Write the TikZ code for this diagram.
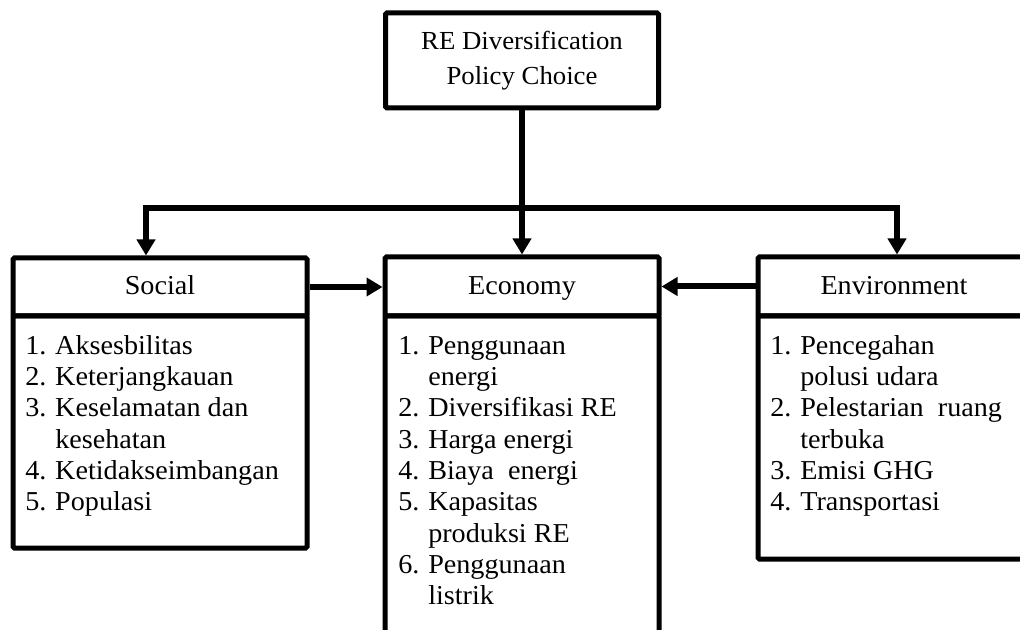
\documentclass[tikz,border=0pt]{standalone}
\usepackage{fontspec}
\setmainfont{Liberation Serif}[FakeStretch=1.03]
\usetikzlibrary{arrows.meta,fit}
% hanging-indent helpers for the numbered lists
\newcommand{\itm}[1]{\makebox[22.5pt][l]{#1}}
\newcommand{\ind}{\hspace*{22.5pt}}
\begin{document}
\begin{tikzpicture}[x=0.75pt,y=-0.75pt,
  >={Triangle[width=13.5pt,length=12pt]},
  box/.style={draw, line width=3.75pt, rounded corners=1pt, inner sep=0pt},
  conn/.style={line width=4.5pt, line join=miter},
  txt/.style={font=\fontsize{20.5}{23.5}\selectfont, inner sep=0pt},
  head/.style={txt, anchor=base},
  goaltxt/.style={head, font=\fontsize{19.5}{23.5}\selectfont},
  items/.style={txt, align=left, anchor=north west}]
\useasboundingbox (0,0) rectangle (1020,630);
\clip (0,0) rectangle (1020,630);

% goal box
\node[box, fit={(385.5,13) (658.5,108)}] (goal) {};
\node[goaltxt] (goalA) at (522,50) {RE Diversification};
\node[goaltxt] (goalB) at (522,85) {Policy Choice};

% social criterion
\node[box, fit={(13,258) (307,316)}] (socH) {};
\node[box, fit={(13,316) (307,548)}] (socB) {};
\node[head] (socT) at (160,295) {Social};
\node[items] (socL) at (25,332) {\strut\itm{1.}Aksesbilitas\\
  \itm{2.}Keterjangkauan\\
  \itm{3.}Keselamatan dan\\
  \ind kesehatan\\
  \itm{4.}Ketidakseimbangan\\
  \itm{5.}Populasi};

% economy criterion
\node[box, fit={(385,257) (659,316)}] (ecoH) {};
\node[box, fit={(385,316) (659,670)}] (ecoB) {};
\node[head] (ecoT) at (522,295) {Economy};
\node[items] (ecoL) at (398,332) {\strut\itm{1.}Penggunaan\\
  \ind energi\\
  \itm{2.}Diversifikasi RE\\
  \itm{3.}Harga energi\\
  \itm{4.}Biaya\ \ energi\\
  \itm{5.}Kapasitas\\
  \ind produksi RE\\
  \itm{6.}Penggunaan\\
  \ind listrik};

% environment criterion
\node[box, fit={(758,257) (1032,316)}] (envH) {};
\node[box, fit={(758,316) (1032,559)}] (envB) {};
\node[head] (envT) at (894,295) {Environment};
\node[items] (envL) at (770,332) {\strut\itm{1.}Pencegahan\\
  \ind polusi udara\\
  \itm{2.}Pelestarian\ \ ruang\\
  \ind terbuka\\
  \itm{3.}Emisi GHG\\
  \itm{4.}Transportasi};

% connectors
\coordinate (bl) at (146,208);
\coordinate (br) at (897,208);
\draw[conn,->] (goal.south) -- (ecoH.north);
\draw[conn,<->] (bl |- socH.north) -- (bl) -- (br) -- (br |- envH.north);
\draw[conn,->] (socH.east) -- (socH.east -| ecoH.west);
\draw[conn,->] (envH.west) -- (envH.west -| ecoH.east);
\end{tikzpicture}
\end{document}
